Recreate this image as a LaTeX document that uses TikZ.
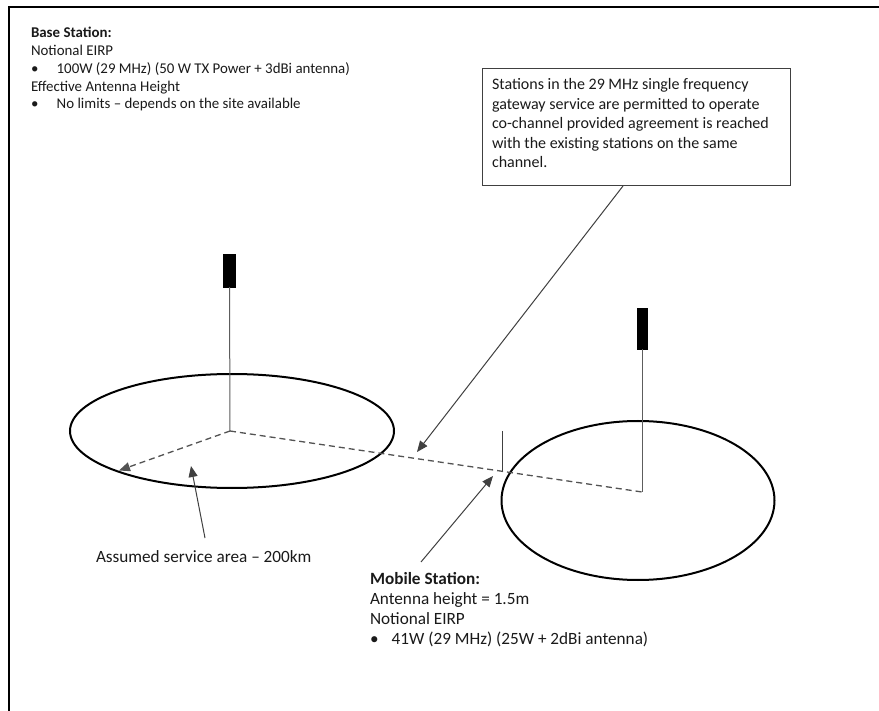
\documentclass[tikz,border=0pt]{standalone}
\usepackage{fontspec}
\setmainfont{Carlito}
\usetikzlibrary{arrows.meta,shapes.geometric}
\definecolor{txt}{HTML}{1A1A1A}
\definecolor{conn}{HTML}{404040}
\tikzset{
  x=1pt,y=-1pt,
  txtblock/.style={inner sep=0pt,outer sep=0pt,anchor=base west,align=left,text=txt},
  conline/.style={draw=conn,line width=1pt},
  arr/.style={conline,-{Triangle[length=11pt,width=9pt]}},
  dashline/.style={draw=conn!90,line width=1.3pt,dash pattern=on 6pt off 4pt},
  area/.style={ellipse,draw=black,line width=2pt,inner sep=0pt},
  antbox/.style={rectangle,fill=black,draw=black,inner sep=0pt},
  mast/.style={draw=conn!85,line width=1pt}
}
\newcommand{\bul}[1]{\makebox[#1][l]{\textbullet}}
\begin{document}
\begin{tikzpicture}
\useasboundingbox (0,0) rectangle (879,711);
\fill[white] (0,0) rectangle (879,711);
% frame
\draw[line width=2pt] (9,711) -- (9,7) -- (879,7);

% base station text (anchor = baseline of last line)
\node[txtblock,font=\fontsize{14.9}{17.8}\selectfont] (basetxt) at (31,108.9)
 {\textbf{Base Station:}\\
  Notional EIRP\\
  \bul{25.7pt}100W (29 MHz) (50 W TX Power + 3dBi antenna)\\
  Effective Antenna Height\\
  \bul{25.7pt}No limits -- depends on the site available};

% callout box
\node[draw=conn,line width=1pt,minimum width=308pt,minimum height=117pt,inner sep=0pt,anchor=north west] (box) at (482,68) {};
\node[txtblock,font=\fontsize{16}{19.4}\selectfont] (boxtxt) at (492,167.6)
 {Stations in the 29 MHz single frequency\\
  gateway service are permitted to operate\\
  co-channel provided agreement is reached\\
  with the existing stations on the same\\
  channel.};

% ellipses
\node[area,minimum width=324pt,minimum height=114pt] (leftarea) at (232,431) {};
\node[area,minimum width=273pt,minimum height=159pt] (rightarea) at (638,500.5) {};

% antennas
\coordinate (lbase) at (230,431);
\coordinate (rbase) at (642,492);
\node[antbox,minimum width=12pt,minimum height=33pt] (lant) at (229.5,270.5) {};
\node[antbox,minimum width=10pt,minimum height=41pt] (rant) at (642,328.5) {};
\draw[mast] (lant.south) -- (lbase);
\draw[mast] (rant.south) -- (rbase);

% dashed lines
\coordinate (ledge) at (119,470.5);
\draw[dashline] (lbase) -- (rbase);
\draw[dashline,-{Triangle[length=11pt,width=9pt]}] (lbase) -- (ledge);

% mobile station antenna
\coordinate (mtop) at (502,431);
\coordinate (mbot) at (502,471.5);
\draw[conline] (mtop) -- (mbot);

% callout arrow
\coordinate (calltip) at (417,452);
\draw[arr] (box.south -| 623,0) -- (calltip);

% service area label and arrow
\node[txtblock,font=\fontsize{17.2}{20}\selectfont] (svc) at (96,562) {Assumed service area -- 200km};
\coordinate (svctail) at (205,538);
\coordinate (svctip) at (191,466);
\draw[arr] (svctail) -- (svctip);

% mobile station text and arrow
\node[txtblock,font=\fontsize{17.2}{20}\selectfont] (mobtxt) at (370,644.5)
 {\textbf{Mobile Station:}\\
  Antenna height = 1.5m\\
  Notional EIRP\\
  \bul{21.7pt}41W (29 MHz) (25W + 2dBi antenna)};
\coordinate (mobtail) at (421,562);
\coordinate (mobtip) at (493,476);
\draw[arr] (mobtail) -- (mobtip);
\end{tikzpicture}
\end{document}
